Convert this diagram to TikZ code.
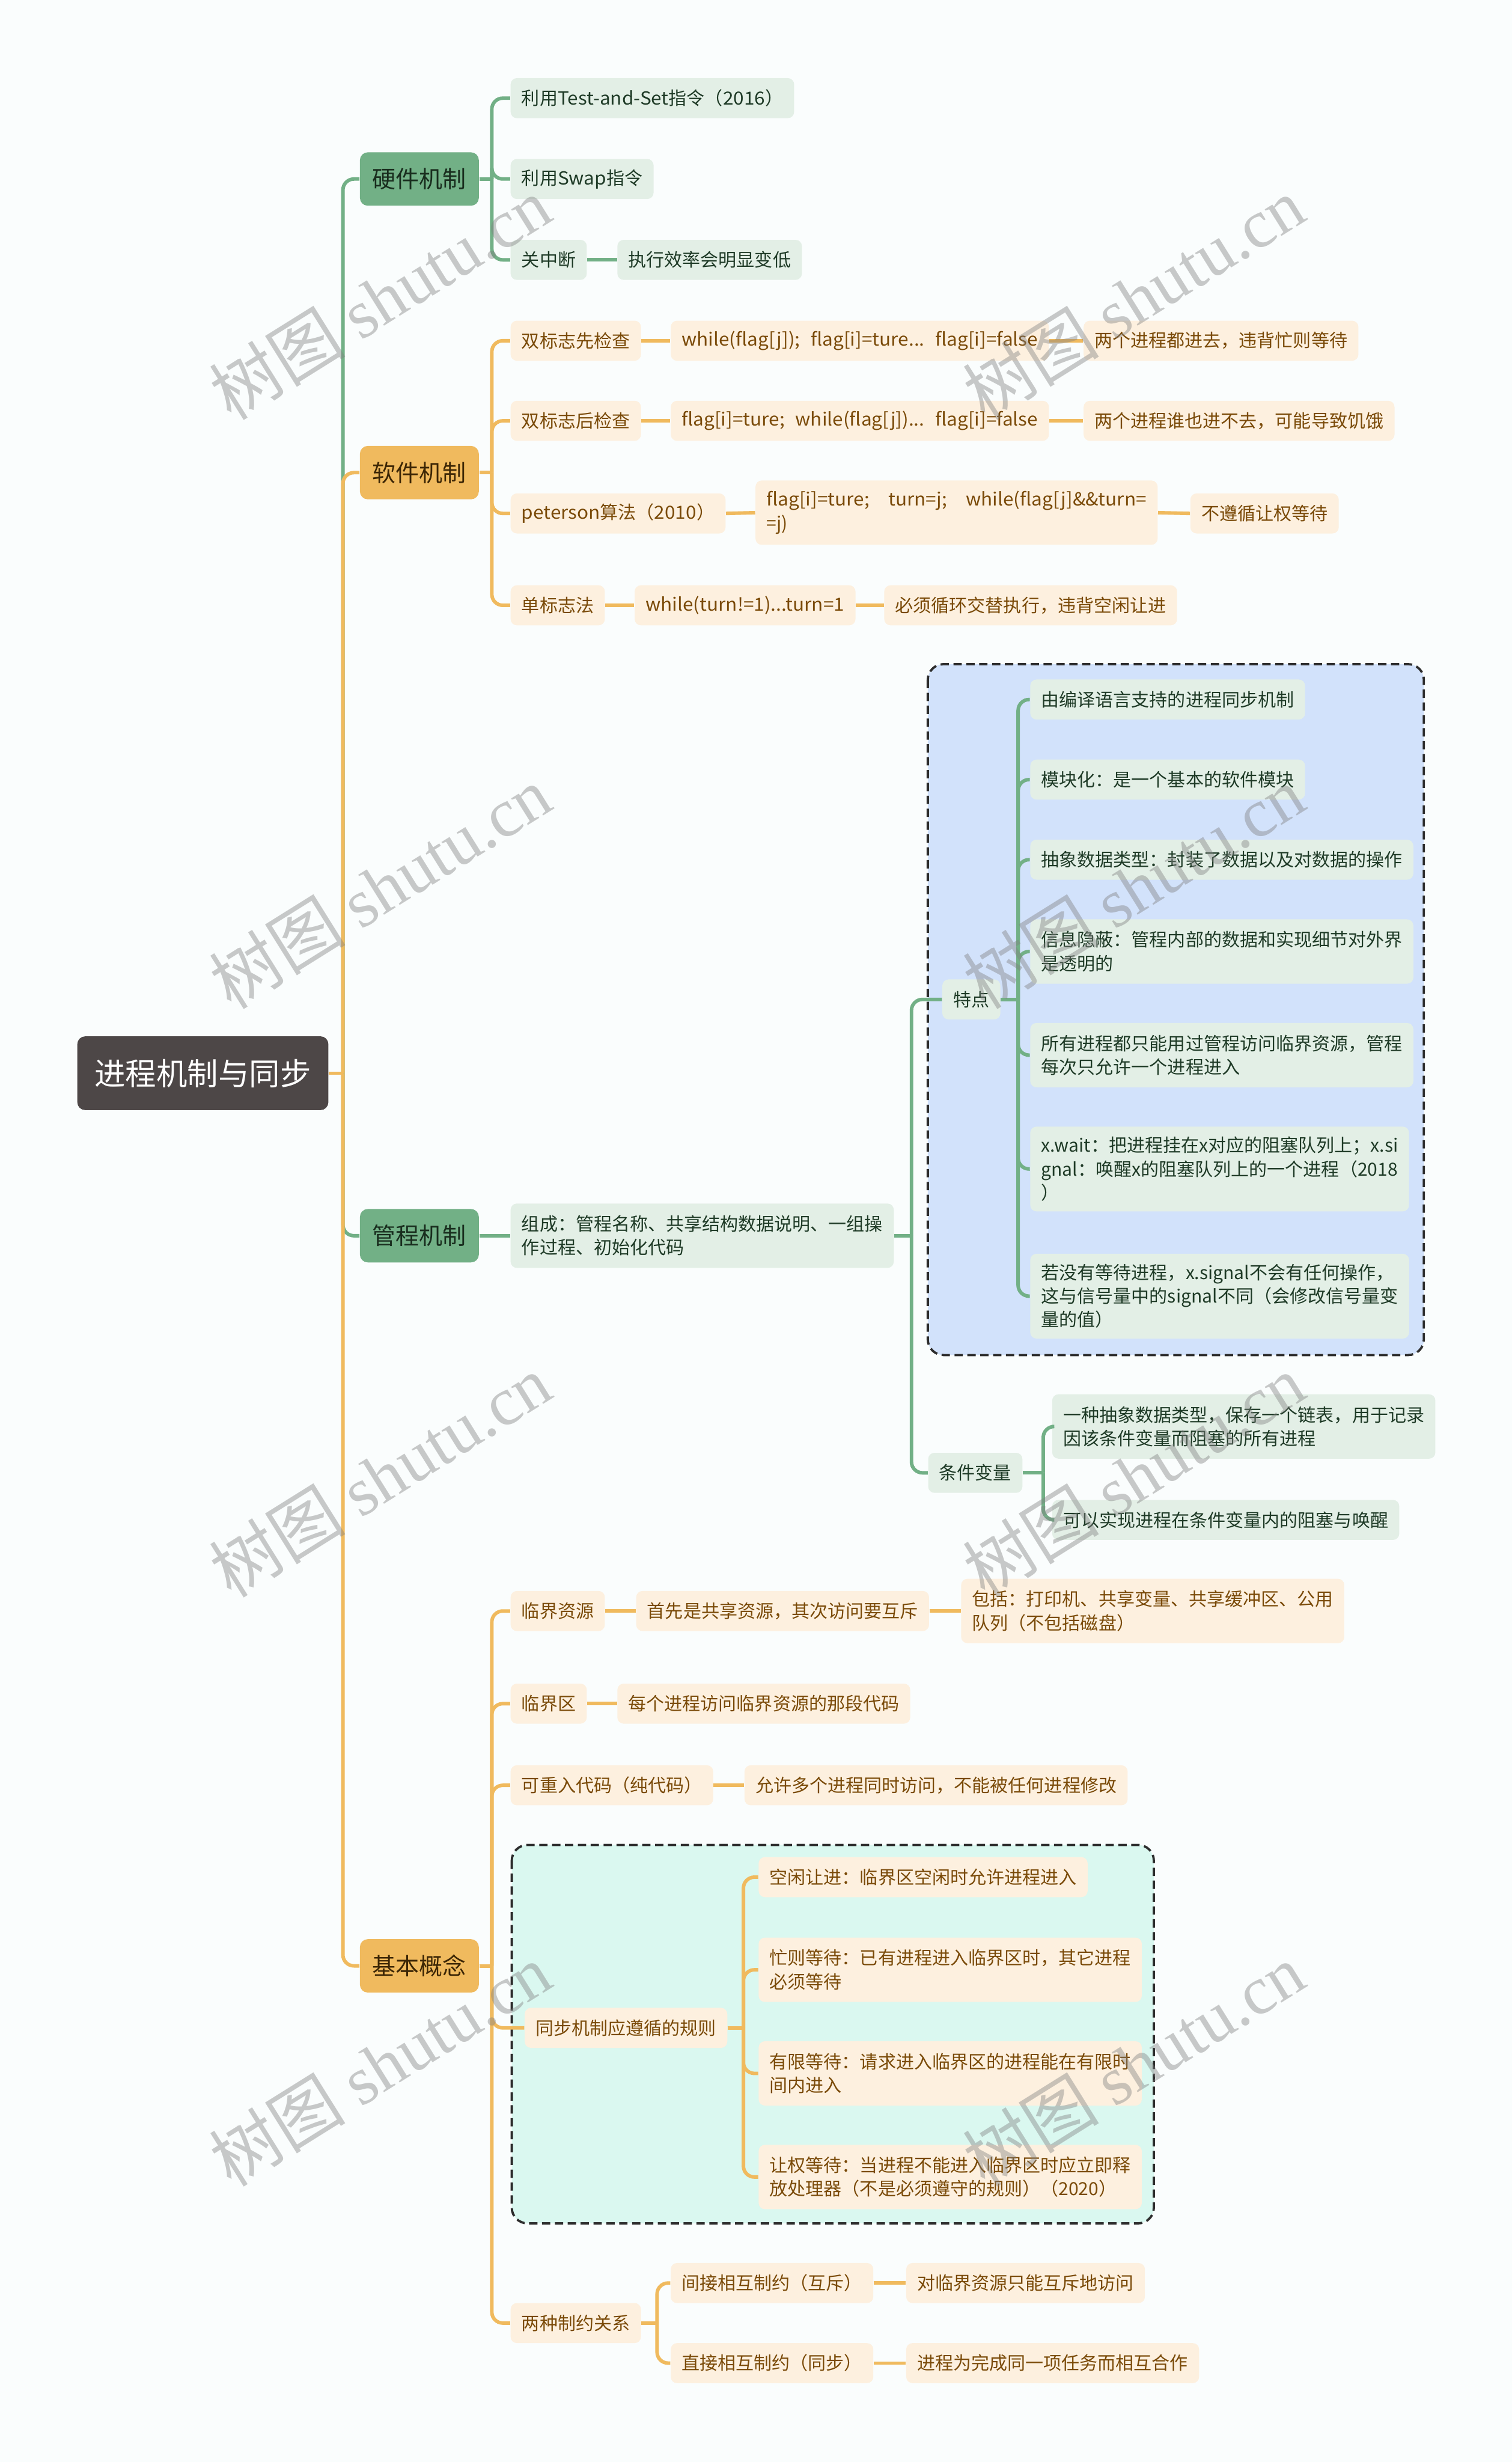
\documentclass[tikz,border=0pt]{standalone}
\usepackage{fontspec}
\setmainfont{Noto Sans CJK SC}
\newfontfamily\latw[FakeStretch=1.05]{Noto Sans CJK SC}
\newfontfamily\wmserif{Liberation Serif}
\usetikzlibrary{calc}
\newdimen\vu \vu=0.026584cm
\newcommand\gapsp{\hspace{6.8\vu}}
\newcommand\gapwd{\hspace{12\vu}}
\definecolor{bgc}{RGB}{250,253,253}
\definecolor{glc}{RGB}{114,176,134}
\definecolor{olc}{RGB}{240,186,94}
\definecolor{lgfill}{RGB}{227,239,230}
\definecolor{lofill}{RGB}{253,240,223}
\definecolor{gtext}{RGB}{30,58,38}
\definecolor{otext}{RGB}{122,74,8}
\definecolor{gltext}{RGB}{25,45,30}
\definecolor{oltext}{RGB}{60,38,5}
\definecolor{rootfill}{RGB}{77,71,71}
\definecolor{bluebox}{RGB}{210,226,251}
\definecolor{tealbox}{RGB}{218,248,240}
\definecolor{dashc}{RGB}{45,45,45}
\tikzset{
  basebox/.style={rounded corners=4\vu, inner xsep=7\vu, inner ysep=2\vu, minimum height=25.5\vu,
    font=\fontsize{8.7}{11.35}\selectfont, align=left, anchor=west},
  gnode/.style={basebox, fill=lgfill, text=gtext},
  onode/.style={basebox, fill=lofill, text=otext},
  twol/.style={minimum height=41\vu},
  threel/.style={minimum height=54\vu},
  lonebox/.style={rounded corners=5\vu, inner xsep=8\vu, inner ysep=2\vu, minimum height=34\vu,
    font=\fontsize{11.3}{14}\selectfont, anchor=west},
  lgreen/.style={lonebox, fill=glc, text=gltext},
  lorange/.style={lonebox, fill=olc, text=oltext},
  rootbox/.style={rounded corners=5\vu, inner xsep=11\vu, minimum height=47\vu, fill=rootfill,
    text=white, font=\fontsize{14.9}{18}\selectfont, anchor=west},
  gl/.style={draw=glc, line width=1.7pt},
  ol/.style={draw=olc, line width=1.7pt},
  dbox/.style={draw=dashc, line width=1.1pt, dash pattern=on 4pt off 2.2pt, rounded corners=10\vu},
  wm/.style={text=gray, text opacity=0.42, font=\fontsize{33}{33}\selectfont, rotate=32}
}
\newcommand\mmlink[4]{%
  \draw[#1] (#2.east) -- ++(#4,0);
  \draw[#1, rounded corners=7\vu] ($(#2.east)+(#4,0)$) |- (#3.west);}
\begin{document}
\begin{tikzpicture}[x=\vu, y=-\vu]
\fill[bgc] (0,0) rectangle (963,1568);
\useasboundingbox (0,0) rectangle (963,1568);
% dashed group boxes
\draw[dbox, fill=bluebox] (591,423) rectangle (907,863);
\draw[dbox, fill=tealbox] (326,1175) rectangle (735,1416);
% root and main branches
\node[rootbox] (root) at (49,683.5) {进程机制与同步};
\node[lgreen] (hw) at (229,114) {硬件机制};
\node[lorange] (sw) at (229,301) {软件机制};
\node[lgreen] (mon) at (229,787) {管程机制};
\node[lorange] (basic) at (229,1252) {基本概念};
% hardware
\node[gnode] (hw1) at (325,62.5) {利用{\latw Test-and-Set}指令（{\latw 2016}）};
\node[gnode] (hw2) at (325,114) {利用{\latw Swap}指令};
\node[gnode] (hw3) at (325,165.5) {关中断};
\node[gnode] (hw3a) at (393,165.5) {执行效率会明显变低};
% software
\node[onode] (sw1) at (325,217) {双标志先检查};
\node[onode] (sw1a) at (427,217) {\latw while(flag[j]);\gapsp flag[i]=ture...\gapsp flag[i]=false};
\node[onode] (sw1b) at (690,217) {两个进程都进去，违背忙则等待};
\node[onode] (sw2) at (325,268) {双标志后检查};
\node[onode] (sw2a) at (427,268) {\latw flag[i]=ture;\gapsp while(flag[j])...\gapsp flag[i]=false};
\node[onode] (sw2b) at (690,268) {两个进程谁也进不去，可能导致饥饿};
\node[onode] (sw3) at (325,327) {{\latw peterson}算法（{\latw 2010}）};
\node[onode, twol] (sw3a) at (481,326.5) {\latw flag[i]=ture;\gapwd turn=j;\gapwd while(flag[j]\&\&turn=\\=j)};
\node[onode] (sw3b) at (758,327) {不遵循让权等待};
\node[onode] (sw4) at (325,385.5) {单标志法};
\node[onode] (sw4a) at (404,385.5) {\latw while(turn!=1)...turn=1};
\node[onode] (sw4b) at (563,385.5) {必须循环交替执行，违背空闲让进};
% monitor
\node[gnode, twol] (mon1) at (325,787) {组成：管程名称、共享结构数据说明、一组操\\作过程、初始化代码};
\node[gnode] (tz) at (600,636.5) {特点};
\node[gnode] (tz1) at (656,445.5) {由编译语言支持的进程同步机制};
\node[gnode] (tz2) at (656,496.5) {模块化：是一个基本的软件模块};
\node[gnode] (tz3) at (656,547.5) {抽象数据类型：封装了数据以及对数据的操作};
\node[gnode, twol] (tz4) at (656,606) {信息隐蔽：管程内部的数据和实现细节对外界\\是透明的};
\node[gnode, twol] (tz5) at (656,672) {所有进程都只能用过管程访问临界资源，管程\\每次只允许一个进程进入};
\node[gnode, threel] (tz6) at (656,744.5) {x.wait：把进程挂在x对应的阻塞队列上；x.si\\gnal：唤醒x的阻塞队列上的一个进程（2018\\）};
\node[gnode, threel] (tz7) at (656,825.5) {若没有等待进程，x.signal不会有任何操作，\\这与信号量中的signal不同（会修改信号量变\\量的值）};
\node[gnode] (cv) at (591,938) {条件变量};
\node[gnode, twol] (cv1) at (670,908.5) {一种抽象数据类型，保存一个链表，用于记录\\因该条件变量而阻塞的所有进程};
\node[gnode] (cv2) at (670,968) {可以实现进程在条件变量内的阻塞与唤醒};
% basic concepts
\node[onode] (b1) at (325,1026) {临界资源};
\node[onode] (b1a) at (405,1026) {首先是共享资源，其次访问要互斥};
\node[onode, twol] (b1b) at (612,1026) {包括：打印机、共享变量、共享缓冲区、公用\\队列（不包括磁盘）};
\node[onode] (b2) at (325,1085) {临界区};
\node[onode] (b2a) at (393,1085) {每个进程访问临界资源的那段代码};
\node[onode] (b3) at (325,1137) {可重入代码（纯代码）};
\node[onode] (b3a) at (474,1137) {允许多个进程同时访问，不能被任何进程修改};
\node[onode] (b4) at (334,1291.5) {同步机制应遵循的规则};
\node[onode] (b41) at (483,1195.5) {空闲让进：临界区空闲时允许进程进入};
\node[onode, twol] (b42) at (483,1254.5) {忙则等待：已有进程进入临界区时，其它进程\\必须等待};
\node[onode, twol] (b43) at (483,1320.5) {有限等待：请求进入临界区的进程能在有限时\\间内进入};
\node[onode, twol] (b44) at (483,1386.5) {让权等待：当进程不能进入临界区时应立即释\\放处理器（不是必须遵守的规则）（2020）};
\node[onode] (b5) at (325,1479.5) {两种制约关系};
\node[onode] (b51) at (427,1454) {间接相互制约（互斥）};
\node[onode] (b51a) at (577,1454) {对临界资源只能互斥地访问};
\node[onode] (b52) at (427,1505) {直接相互制约（同步）};
\node[onode] (b52a) at (577,1505) {进程为完成同一项任务而相互合作};
% connectors
\mmlink{gl}{root}{hw}{9}
\mmlink{ol}{root}{sw}{9}
\mmlink{gl}{root}{mon}{9}
\mmlink{ol}{root}{basic}{9}
\mmlink{gl}{hw}{hw1}{8}
\mmlink{gl}{hw}{hw2}{8}
\mmlink{gl}{hw}{hw3}{8}
\draw[gl] (hw3.east) -- (hw3a.west);
\mmlink{ol}{sw}{sw1}{8}
\mmlink{ol}{sw}{sw2}{8}
\mmlink{ol}{sw}{sw3}{8}
\mmlink{ol}{sw}{sw4}{8}
\draw[ol] (sw1.east) -- (sw1a.west);
\draw[ol] (sw1a.east) -- (sw1b.west);
\draw[ol] (sw2.east) -- (sw2a.west);
\draw[ol] (sw2a.east) -- (sw2b.west);
\draw[ol] (sw3.east) -- (sw3a.west);
\draw[ol] (sw3a.east) -- (sw3b.west);
\draw[ol] (sw4.east) -- (sw4a.west);
\draw[ol] (sw4a.east) -- (sw4b.west);
\draw[gl] (mon.east) -- (mon1.west);
\mmlink{gl}{mon1}{tz}{11}
\mmlink{gl}{mon1}{cv}{11}
\foreach \c in {tz1,tz2,tz3,tz4,tz5,tz6,tz7} {\mmlink{gl}{tz}{\c}{11}}
\mmlink{gl}{cv}{cv1}{13}
\mmlink{gl}{cv}{cv2}{13}
\foreach \c in {b1,b2,b3,b4,b5} {\mmlink{ol}{basic}{\c}{8}}
\draw[ol] (b1.east) -- (b1a.west);
\draw[ol] (b1a.east) -- (b1b.west);
\draw[ol] (b2.east) -- (b2a.west);
\draw[ol] (b3.east) -- (b3a.west);
\foreach \c in {b41,b42,b43,b44} {\mmlink{ol}{b4}{\c}{10}}
\mmlink{ol}{b5}{b51}{10}
\mmlink{ol}{b5}{b52}{10}
\draw[ol] (b51.east) -- (b51a.west);
\draw[ol] (b52.east) -- (b52a.west);
% watermarks
\foreach \wy in {190,565,940,1315} {
  \foreach \wx in {242,722} {
    \node[wm] at (\wx,\wy) {树图 {\wmserif shutu.cn}};
  }
}
\end{tikzpicture}
\end{document}
